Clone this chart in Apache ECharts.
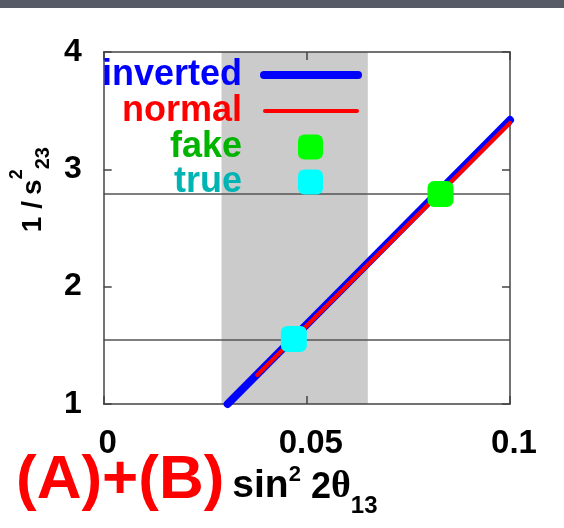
<!DOCTYPE html>
<html><head><meta charset="utf-8">
<script src="https://cdn.jsdelivr.net/npm/echarts@6/dist/echarts.min.js"></script>
<style>html,body{margin:0;padding:0;background:#fff}#c{width:564px;height:528px}</style>
</head><body><div id="c"></div>
<script>
// ---- data ----
const xTickLabels = ['0', '0.05', '0.1'];
const yTickLabels = ['1', '2', '3', '4'];
const invertedLine = [[0.0305, 1.0], [0.1, 3.42]];
const normalLine = [[0.0378, 1.247], [0.1, 3.395]];
const fakePoint = [[0.0829, 2.79]];
const truePoint = [[0.0468, 1.555]];
const bandRange = [0.029, 0.065];
const refLevels = [2.79, 1.555];
const seriesNames = ['inverted', 'normal', 'fake', 'true'];

const FONT = 'Liberation Sans';
const frameColor = '#444';

function frameAxis(pos, isX, showLabel) {
  const a = {
    type: 'value',
    position: pos,
    min: isX ? 0 : 1,
    max: isX ? 0.1 : 4,
    interval: isX ? 0.05 : 1,
    z: 1.5,
    axisLine: { show: true, onZero: false, lineStyle: { color: frameColor, width: 1.5 } },
    axisTick: { show: true, inside: true, length: 8, lineStyle: { color: frameColor, width: 1.5 } },
    splitLine: { show: false },
    axisLabel: { show: false }
  };
  if (showLabel) {
    if (isX) {
      a.axisLabel = {
        show: true, margin: 23, fontSize: 33, fontWeight: 'bold', fontFamily: FONT, color: '#000',
        padding: [0, 0, 0, 8],
        formatter: v => xTickLabels[Math.round(v / 0.05)]
      };
    } else {
      a.axisLabel = {
        show: true, margin: 22, fontSize: 32, fontWeight: 'bold', fontFamily: FONT, color: '#000',
        padding: [3, 0, 0, 0],
        formatter: v => yTickLabels[Math.round(v - 1)]
      };
    }
  }
  return a;
}

const yLeft = frameAxis('left', false, true);
yLeft.name = '{m1|1}{m2|/}{m3|s}{p|2}{b|23}';
yLeft.nameLocation = 'middle';
yLeft.nameRotate = 90;
yLeft.nameGap = 38;
const yNameBase = { fontSize: 28, fontWeight: 'bold', fontFamily: FONT, color: '#000', lineHeight: 28, padding: [0, 0, 6, 0], verticalAlign: 'bottom' };
yLeft.nameTextStyle = {
  padding: [0, 0, 0, 75],
  rich: {
    m1: Object.assign({}, yNameBase, { width: 19 }),
    m2: Object.assign({}, yNameBase, { width: 20, align: 'center' }),
    m3: Object.assign({}, yNameBase),
    p: { fontSize: 18, fontWeight: 'bold', fontFamily: FONT, color: '#000', lineHeight: 18, padding: [0, 0, 27, 0], width: 10, verticalAlign: 'bottom' },
    b: { fontSize: 20, fontWeight: 'bold', fontFamily: FONT, color: '#000', lineHeight: 20, padding: [0, 0, 0, 0], verticalAlign: 'bottom' }
  }
};

function legendFor(name, color, right, top, w, h, icon, padRight) {
  return {
    data: [name], orient: 'vertical', align: 'right', right: right, top: top, padding: 0,
    itemWidth: w, itemHeight: h, icon: icon, selectedMode: false,
    textStyle: { color: color, fontSize: 36, fontWeight: 'bold', fontFamily: FONT, lineHeight: 36, padding: [0, padRight, 6, 0] }
  };
}

const option = {
  animation: false,
  backgroundColor: '#fff',
  graphic: [{ type: 'rect', left: 0, top: 0, shape: { width: 564, height: 8 }, style: { fill: '#575b67' }, z: 100 }],
  title: {
    left: 16, top: 457, padding: 0,
    text: '{a|(A)+(B)}{s|sin}{p|2}{u| 2}{t|θ}{b|13}',
    textStyle: {
      rich: {
        a: { fontSize: 62, fontWeight: 'bold', fontFamily: FONT, color: '#ff0000', lineHeight: 62, padding: [0, 0, 7, 0], verticalAlign: 'bottom' },
        s: { fontSize: 39, fontWeight: 'bold', fontFamily: FONT, color: '#000', lineHeight: 39, padding: [0, 0, 13, 8], verticalAlign: 'bottom' },
        p: { fontSize: 22, fontWeight: 'bold', fontFamily: FONT, color: '#000', lineHeight: 22, padding: [0, 0, 33, 0], verticalAlign: 'bottom' },
        u: { fontSize: 36, fontWeight: 'bold', fontFamily: FONT, color: '#000', lineHeight: 36, padding: [0, 0, 13, 0], verticalAlign: 'bottom' },
        t: { fontSize: 38, fontFamily: 'Liberation Serif', color: '#000', lineHeight: 38, padding: [0, 0, 13, 0], verticalAlign: 'bottom' },
        b: { fontSize: 24, fontWeight: 'bold', fontFamily: FONT, color: '#000', lineHeight: 24, padding: [0, 0, 1, 0], verticalAlign: 'bottom' }
      }
    }
  },
  legend: [
    legendFor(seriesNames[0], '#0000ff', 202, 54, 102, 8, 'path://M4 0L98 0A4 4 0 0 1 98 8L4 8A4 4 0 0 1 4 0Z', 13),
    legendFor(seriesNames[1], '#ff0000', 205, 90, 96, 4, 'path://M2 0L94 0A2 2 0 0 1 94 4L2 4A2 2 0 0 1 2 0Z', 16),
    legendFor(seriesNames[2], '#00b400', 241, 126, 25, 25, 'roundRect', 51),
    legendFor(seriesNames[3], '#00b4b4', 241, 161, 25, 25, 'roundRect', 51)
  ],
  grid: { left: 100, right: 54, top: 52, bottom: 124, containLabel: false },
  xAxis: [frameAxis('bottom', true, true), frameAxis('top', true, false)],
  yAxis: [yLeft, frameAxis('right', false, false)],
  series: [
    {
      type: 'line', name: '_ref', data: [], silent: true, symbol: 'none',
      markArea: { silent: true, z: 0.5, itemStyle: { color: '#cbcbcb' }, data: [[{ xAxis: bandRange[0] }, { xAxis: bandRange[1] }]] },
      markLine: { silent: true, z: 1, symbol: 'none', label: { show: false },
        lineStyle: { color: '#555', width: 1.5, type: 'solid' },
        data: refLevels.map(v => ({ yAxis: v })) }
    },
    { type: 'line', name: seriesNames[0], data: invertedLine, color: '#0000ff', symbol: 'none', clip: false, z: 2,
      lineStyle: { width: 8, cap: 'round' } },
    { type: 'line', name: seriesNames[1], data: normalLine, color: '#ff0000', symbol: 'none', clip: false, z: 3,
      lineStyle: { width: 4, cap: 'round' } },
    { type: 'scatter', name: seriesNames[2], data: fakePoint, color: '#00ff00', symbol: 'roundRect', symbolSize: 26, z: 4,
      itemStyle: { opacity: 1 } },
    { type: 'scatter', name: seriesNames[3], data: truePoint, color: '#00ffff', symbol: 'roundRect', symbolSize: 26, z: 4,
      itemStyle: { opacity: 1 } }
  ]
};

const chart = echarts.init(document.getElementById('c'), null, { renderer: 'canvas' });
chart.setOption(option);
</script>
</body></html>
